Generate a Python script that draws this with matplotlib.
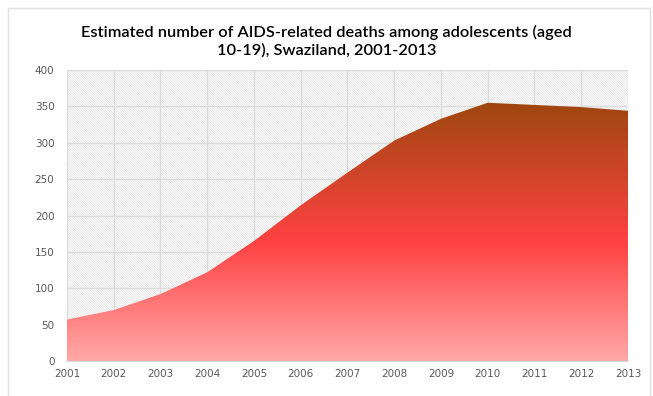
import numpy as np
import matplotlib.pyplot as plt
from matplotlib.colors import LinearSegmentedColormap
from matplotlib.patches import Rectangle

years = [2001, 2002, 2003, 2004, 2005, 2006, 2007, 2008, 2009, 2010, 2011, 2012, 2013]
deaths = [57, 70, 92, 122, 165, 214, 259, 303, 333, 355, 352, 349, 344]
yticks = [0, 50, 100, 150, 200, 250, 300, 350, 400]
title = "Estimated number of AIDS-related deaths among adolescents (aged\n10-19), Swaziland, 2001-2013"

plt.rcParams['hatch.linewidth'] = 0.5

fig = plt.figure(figsize=(6.53, 3.96), dpi=100)
ax = fig.add_axes([0.1026, 0.0884, 0.8591, 0.7348])

# hatched plot background
ax.add_patch(Rectangle((0, 0), 1, 1, transform=ax.transAxes, facecolor='white',
                       edgecolor='#e0e0e0', linewidth=0, hatch='\\' * 14, zorder=0))
ax.set_facecolor('white')

ax.set_xlim(years[0], years[-1])
ax.set_ylim(0, 400)
ax.set_xticks(years)
ax.set_yticks(yticks)
ax.grid(True, color='#dcdcdc', linewidth=1, zorder=1)
ax.set_axisbelow(False)

# area with vertical gradient clipped to the data polygon
poly = ax.fill_between(years, deaths, 0, facecolor='none', edgecolor='none', zorder=2)
cmap = LinearSegmentedColormap.from_list('grad', [(0.0, '#ffa8a8'), (0.46, '#ff4242'), (1.0, '#9e470f')])
top = max(deaths)
grad = np.linspace(0, 1, 256).reshape(-1, 1)
img = ax.imshow(grad, cmap=cmap, origin='lower', aspect='auto',
                extent=[years[0], years[-1], 0, top], zorder=3)
img.set_clip_path(poly.get_paths()[0], transform=ax.transData)
ax.set_xlim(years[0], years[-1])
ax.set_ylim(0, 400)

for s in ['top', 'right', 'left']:
    ax.spines[s].set_visible(False)
ax.spines['bottom'].set_color('#d9d9d9')
ax.spines['bottom'].set_zorder(4)
ax.tick_params(length=0, labelsize=7.5, labelcolor='#595959', pad=6)
ax.tick_params(axis='y', pad=9)

fig.text(0.5, 0.896, title, ha='center', va='center', fontsize=11.8,
         family='Lato', fontweight='semibold', color='black', linespacing=1.35)

# chart border
fig.add_artist(Rectangle((8 / 653, -0.02), 642 / 653, 1.0, transform=fig.transFigure,
                         facecolor='none', edgecolor='#e0e0e0', linewidth=1))

fig.savefig('out.png', dpi=100)
